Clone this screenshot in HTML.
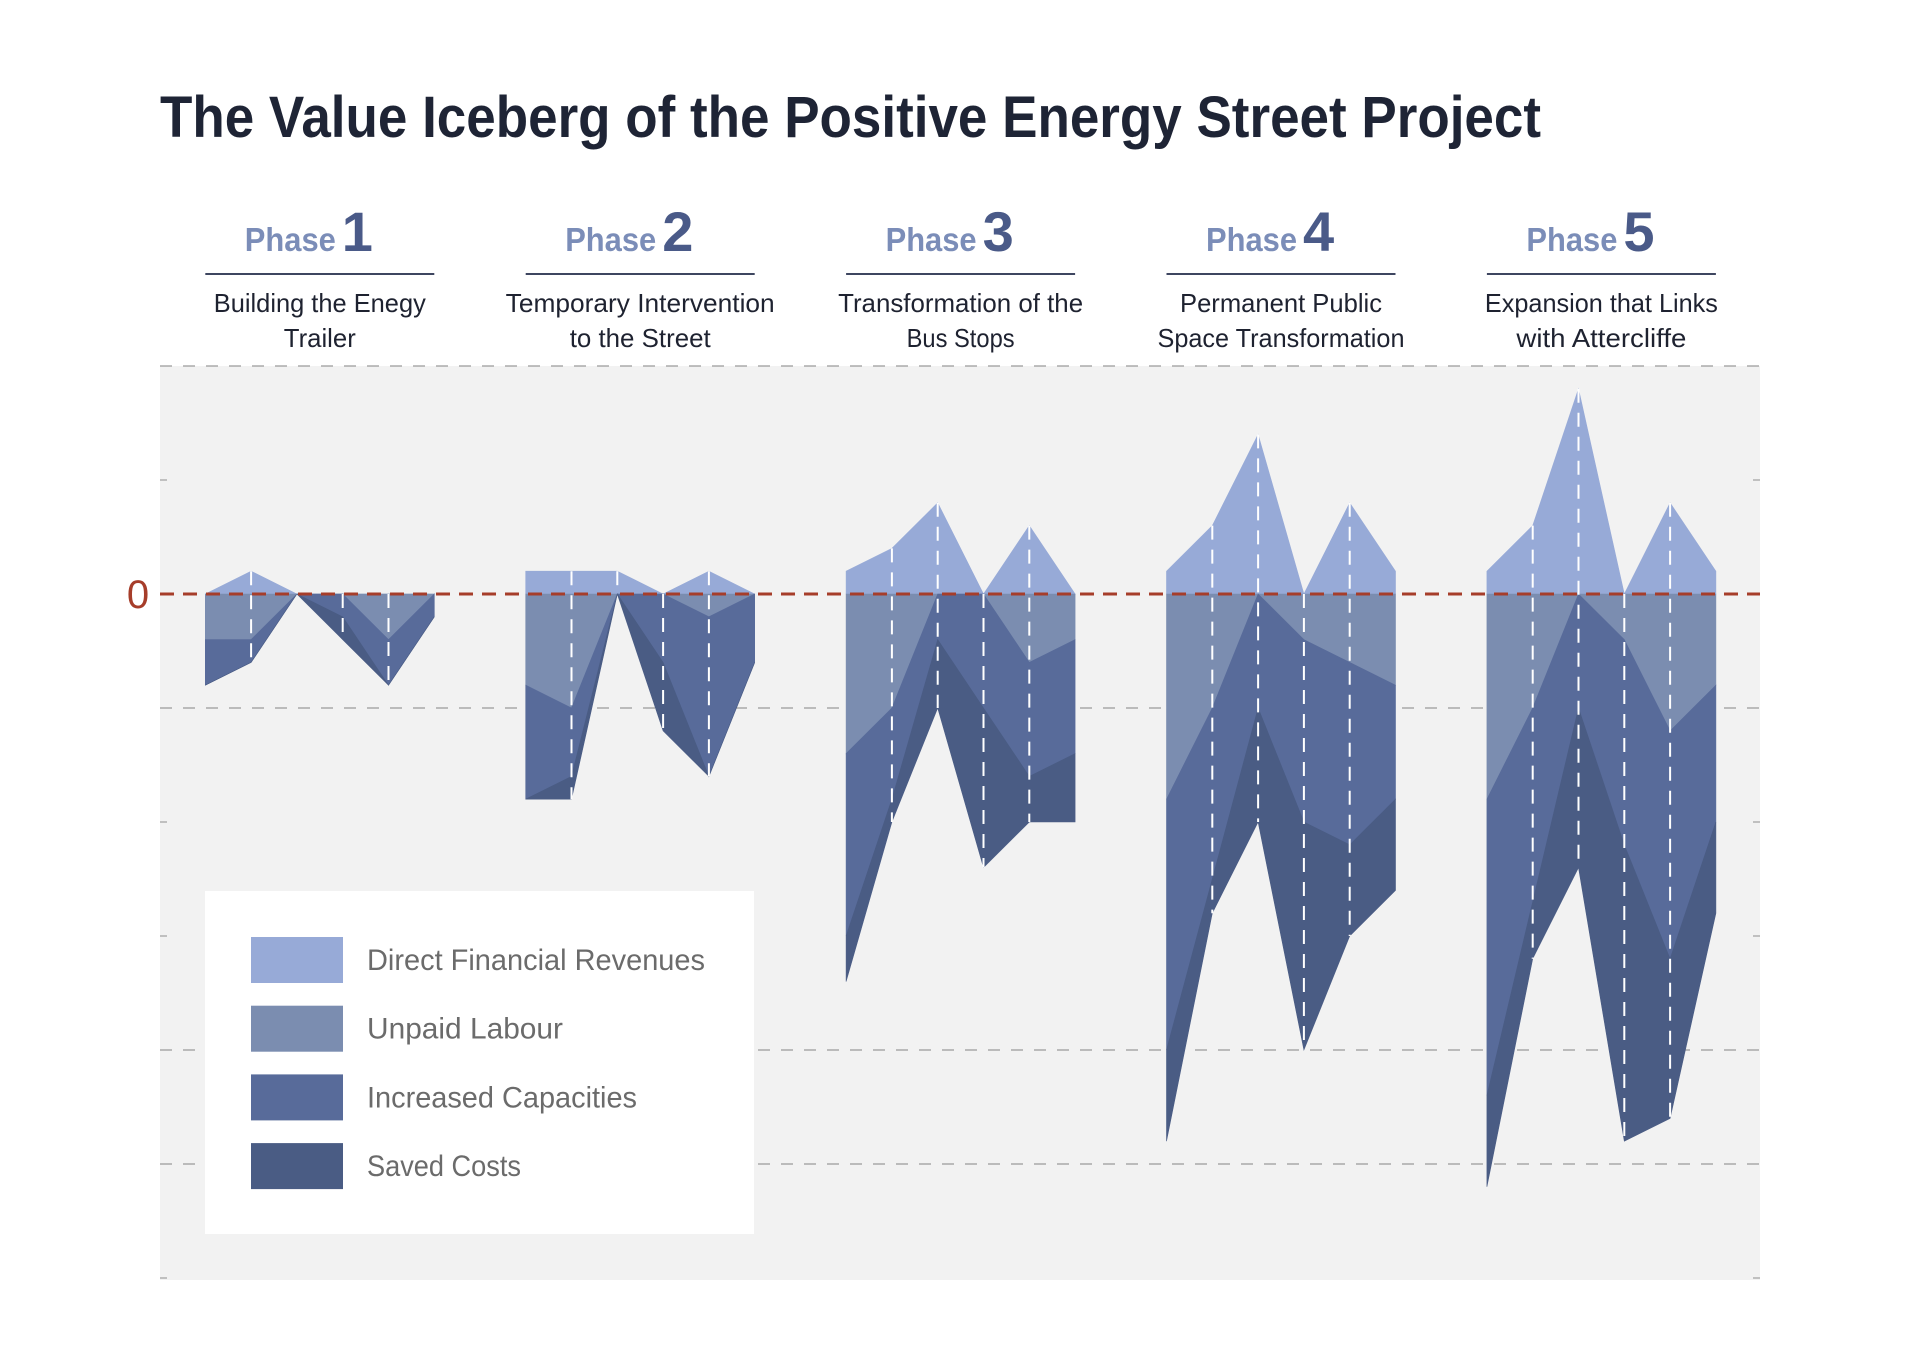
<!DOCTYPE html>
<html><head><meta charset="utf-8"><style>
html,body{margin:0;padding:0;background:#fff;}
svg{display:block;font-family:"Liberation Sans",sans-serif;}
</style></head><body>
<svg id="chart" width="1920" height="1358" viewBox="0 0 1920 1358" xmlns="http://www.w3.org/2000/svg">
<rect x="0" y="0" width="1920" height="1358" fill="#ffffff"/>
<text x="160" y="137" font-size="58" font-weight="bold" fill="#1e2435" textLength="1381" lengthAdjust="spacingAndGlyphs">The Value Iceberg of the Positive Energy Street Project</text>
<rect x="160" y="366" width="1600" height="914" fill="#f2f2f2"/>
<g id="grid"></g>
<g id="marks"></g>
<g id="headers"></g>
<g id="legend"></g>
</svg>
<script>
const phaseNames = ["1","2","3","4","5"];
const subtitles = [["Building the Enegy","Trailer"],["Temporary Intervention","to the Street"],["Transformation of the","Bus Stops"],["Permanent Public","Space Transformation"],["Expansion that Links","with Attercliffe"]];
const revenues = [[0,2,0,0,0,0],[2,2,2,0,2,0],[2,4,8,0,6,0],[2,6,14,0,8,2],[2,6,18,0,8,2]];
const unpaidLabour = [[4,4,0,0,4,0],[8,10,0,0,2,0],[14,10,0,0,6,4],[18,10,0,4,6,8],[18,10,0,4,12,8]];
const increasedCapacities = [[4,2,0,2,4,2],[10,6,0,6,14,6],[16,8,4,10,10,10],[22,15,10,16,16,10],[26,17,10,18,20,12]];
const savedCosts = [[0,0,0,2,0,0],[0,2,0,6,0,0],[4,2,6,14,4,6],[8,3,10,20,8,8],[8,5,14,26,14,8]];
const gridTicksFull = [20,-10,-40,-50];
const gridTicksShort = [10,-20,-30,-60];
const legendLabels = ["Direct Financial Revenues","Unpaid Labour","Increased Capacities","Saved Costs"];

const NS="http://www.w3.org/2000/svg";
const colors=["#97aad7","#7b8db0","#586b9a","#4a5c84"];
const zeroY=594, unitPx=11.4;
function yScale(v){return zeroY - v*unitPx;}
function xScale(phase,i){return 205.3 + phase*320.4 + i*45.8;}
function mk(tag,attrs,parent){const e=document.createElementNS(NS,tag);for(const k in attrs)e.setAttribute(k,attrs[k]);parent.appendChild(e);return e;}

const grid=document.getElementById('grid');
gridTicksFull.forEach(t=>{
  const gl=mk('line',{x1:160,x2:1760,y1:yScale(t),y2:yScale(t),stroke:'#9a9a9a','stroke-width':1.3,'stroke-dasharray':'12 11'},grid);
  
  
});
gridTicksShort.forEach(t=>{
  const a=mk('line',{x1:160,x2:167,y1:yScale(t),y2:yScale(t),stroke:'#b0b0b0','stroke-width':1.5},grid);
  
  
  const b=mk('line',{x1:1753,x2:1760,y1:yScale(t),y2:yScale(t),stroke:'#b0b0b0','stroke-width':1.5},grid);
  
  
});

const marks=document.getElementById('marks');
const layerNames=['direct-financial-revenues','unpaid-labour','increased-capacities','saved-costs'];
for(let p=0;p<5;p++){
  const n=revenues[p].length;
  const pts=(top,bot)=>{let a=[];for(let i=0;i<n;i++)a.push(xScale(p,i)+','+yScale(top[i]));for(let i=n-1;i>=0;i--)a.push(xScale(p,i)+','+yScale(bot[i]));return a.join(' ');};
  const zero=Array(n).fill(0);
  const rTop=revenues[p];
  const u=unpaidLabour[p].map(v=>-v);
  const c=u.map((v,i)=>v-increasedCapacities[p][i]);
  const s=c.map((v,i)=>v-savedCosts[p][i]);
  const layers=[[rTop,zero],[zero,u],[u,c],[c,s]];
  layers.forEach((l,k)=>{
    const pg=mk('polygon',{points:pts(l[0],l[1]),fill:colors[k],stroke:colors[k],'stroke-width':0.6},marks);
    
    
  });
  for(let i=1;i<n-1;i++){
    const vl=mk('line',{x1:xScale(p,i),x2:xScale(p,i),y1:yScale(rTop[i]),y2:yScale(s[i]),stroke:'#ffffff','stroke-width':2,'stroke-dasharray':'14 10'},marks);
    
    
  }
}
const zl=mk('line',{x1:160,x2:1760,y1:zeroY,y2:zeroY,stroke:'#a63d2a','stroke-width':3,'stroke-dasharray':'14 9'},marks);


const zt=mk('text',{x:138,y:zeroY+14,'font-size':40,fill:'#a63d2a','text-anchor':'middle'},marks);
zt.textContent='0';



const headers=document.getElementById('headers');
const subW=[[212,72],[269,141],[245,108],[202,247],[233,170]];
for(let p=0;p<5;p++){
  const cx=xScale(p,0)+114.5;
  const ph=mk('text',{x:cx+16,y:251,'font-size':33,'font-weight':'bold',fill:'#7b8db8','text-anchor':'end',textLength:91,lengthAdjust:'spacingAndGlyphs'},headers);
  ph.textContent='Phase';
  
  
  const num=mk('text',{x:cx+22,y:251,'font-size':56,'font-weight':'bold',fill:'#4a5a88'},headers);
  num.textContent=phaseNames[p];
  
  
  const ul=mk('line',{x1:xScale(p,0),x2:xScale(p,5),y1:274,y2:274,stroke:'#3e4660','stroke-width':2},headers);
  
  
  subtitles[p].forEach((t,j)=>{
    const st=mk('text',{x:cx,y:312+j*35,'font-size':26,fill:'#1e2230','text-anchor':'middle',textLength:subW[p][j],lengthAdjust:'spacingAndGlyphs'},headers);
    st.textContent=t;
    
    
  });
}

const legend=document.getElementById('legend');
const lb=mk('rect',{x:205,y:891,width:549,height:343,fill:'#ffffff'},legend);


const legW=[338,196,270,154];
legendLabels.forEach((lab,k)=>{
  const y0=937+k*68.7;
  const sw=mk('rect',{x:251,y:y0,width:92,height:46,fill:colors[k]},legend);
  
  
  const lt=mk('text',{x:367,y:y0+33,'font-size':30,fill:'#6b6b6b',textLength:legW[k],lengthAdjust:'spacingAndGlyphs'},legend);
  lt.textContent=lab;
  
  
});
</script>
</body></html>
